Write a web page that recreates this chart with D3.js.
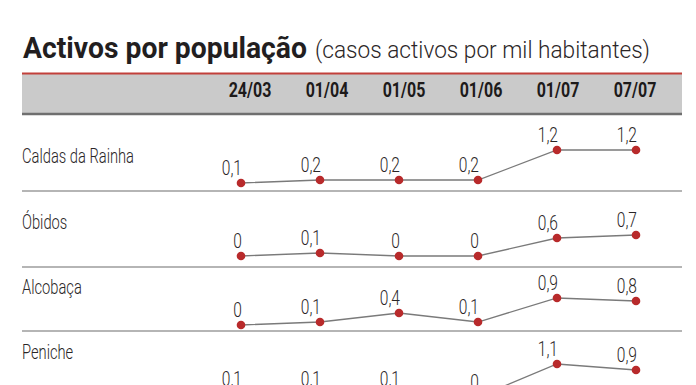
<!DOCTYPE html>
<html>
<head>
<meta charset="utf-8">
<script src="https://cdn.jsdelivr.net/npm/d3@7"></script>
<style>
  body { margin: 0; background: #fff; }
  svg { display: block; }
</style>
</head>
<body>
<svg id="chart" width="696" height="385"></svg>
<script>
// data
var dates = ["24/03", "01/04", "01/05", "01/06", "01/07", "07/07"];
var towns = ["Caldas da Rainha", "Óbidos", "Alcobaça", "Peniche"];
var caldas = [0.1, 0.2, 0.2, 0.2, 1.2, 1.2];
var obidos = [0, 0.1, 0, 0, 0.6, 0.7];
var alcobaca = [0, 0.1, 0.4, 0.1, 0.9, 0.8];
var peniche = [0.1, 0.1, 0.1, 0, 1.1, 0.9];
var series = [caldas, obidos, alcobaca, peniche];

var titleText = "Activos por população",
	subText = "(casos activos por mil habitantes)";

// layout
var left = 22, right = 682,
	bandTop = 73, bandBottom = 114,
	rowTop = [114, 191, 267, 331],
	nameY = [163, 229, 294, 359],
	zeroY = [186, 256, 325, 397];

var font = "Roboto, 'Open Sans', sans-serif";

var svg = d3.select("#chart");

var xHead = d3.scalePoint().domain(dates).range([250, 635]);
var x = d3.scalePoint().domain(dates).range([241, 636]);
var y = d3.scaleLinear().domain([0, 1.2]).range([0, -36]);

// squeeze text horizontally, the original uses a condensed face
function condense(sel, k) {
	sel.each(function() {
		var len = this.getComputedTextLength();
		d3.select(this).attr("textLength", len * k).attr("lengthAdjust", "spacingAndGlyphs");
	});
}

// title
svg.append("text")
	.attr("x", 23)
	.attr("y", 58)
	.style("font-family", font)
	.style("font-weight", 700)
	.style("font-size", "29px")
	.attr("fill", "#221e1f")
	.attr("textLength", 284)
	.attr("lengthAdjust", "spacingAndGlyphs")
	.text(titleText);

svg.append("text")
	.attr("x", 315)
	.attr("y", 58)
	.style("font-family", font)
	.style("font-weight", 300)
	.style("font-size", "24px")
	.attr("fill", "#2b2627")
	.attr("textLength", 335)
	.attr("lengthAdjust", "spacingAndGlyphs")
	.text(subText);

// header band
svg.append("rect")
	.attr("x", left)
	.attr("y", bandTop)
	.attr("width", right - left)
	.attr("height", bandBottom - bandTop)
	.attr("fill", "#cacaca");
svg.append("line")
	.attr("x1", left).attr("x2", right)
	.attr("y1", bandTop + 0.5).attr("y2", bandTop + 0.5)
	.attr("stroke", "#c2403b")
	.attr("stroke-width", 2);
svg.append("line")
	.attr("x1", left).attr("x2", right)
	.attr("y1", bandBottom).attr("y2", bandBottom)
	.attr("stroke", "#6f6f6f")
	.attr("stroke-width", 2.5);

svg.append("g").selectAll("text")
	.data(dates)
	.join("text")
	.attr("x", d => xHead(d))
	.attr("y", 97)
	.attr("text-anchor", "middle")
	.style("font-family", font)
	.style("font-weight", 700)
	.style("font-size", "20px")
	.attr("fill", "#1d1a1a")
	.text(d => d)
	.call(condense, 0.8);

// row separators
svg.append("g").selectAll("line")
	.data(rowTop.slice(1))
	.join("line")
	.attr("x1", left).attr("x2", right)
	.attr("y1", d => d).attr("y2", d => d)
	.attr("stroke", "#9c9c9c")
	.attr("stroke-width", 1.5);

// town names
svg.append("g").selectAll("text")
	.data(towns)
	.join("text")
	.attr("x", left)
	.attr("y", (d, i) => nameY[i])
	.style("font-family", font)
	.style("font-weight", 300)
	.style("font-size", "21px")
	.attr("fill", "#2a2627")
	.text(d => d)
	.call(condense, 0.7);

var line = d3.line()
	.x((d, i) => x(dates[i]))
	.y(d => y(d));

var rows = svg.append("g").selectAll("g")
	.data(series)
	.join("g")
	.attr("transform", (d, i) => "translate(0," + zeroY[i] + ")");

rows.append("path")
	.attr("d", d => line(d))
	.attr("fill", "none")
	.attr("stroke", "#7a7a7a")
	.attr("stroke-width", 1.3);

rows.selectAll("circle")
	.data(d => d)
	.join("circle")
	.attr("cx", (d, i) => x(dates[i]))
	.attr("cy", d => y(d))
	.attr("r", 4.3)
	.attr("fill", "#b82a2b");

rows.selectAll("text.val")
	.data(d => d)
	.join("text")
	.attr("class", "val")
	.attr("x", (d, i) => x(dates[i]) + 1)
	.attr("y", d => y(d) - 8)
	.attr("text-anchor", "end")
	.style("font-family", font)
	.style("font-weight", 300)
	.style("font-size", "21px")
	.attr("fill", "#2a2627")
	.text(d => d3.format(".1~f")(d).replace(".", ","))
	.call(condense, 0.74);
</script>
</body>
</html>
